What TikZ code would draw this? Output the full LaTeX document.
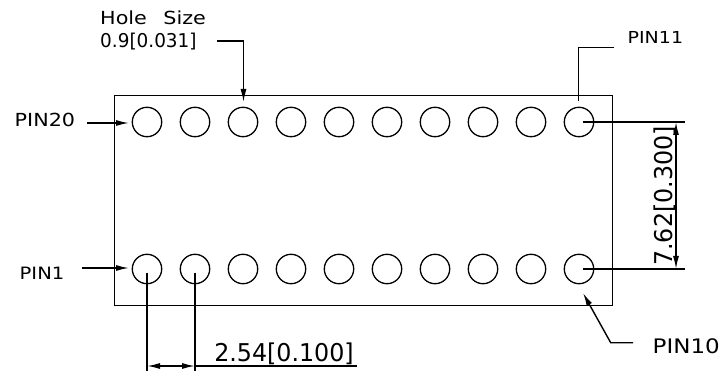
\documentclass[tikz,border=0pt]{standalone}
\usepackage{fontspec}
\setmainfont[FakeStretch=1.15]{DejaVu Sans}
\newfontfamily\numfont[FakeStretch=0.97]{DejaVu Sans}
\usetikzlibrary{arrows.meta}
\tikzset{
	hole/.style={draw,circle,line width=1.3pt,minimum size=29.4pt,inner sep=0pt},
	lead/.style={line width=1.4pt},
	tip/.style={-{Latex[length=13pt,width=6pt]}},
	dimtips/.style={{Latex[length=13pt,width=6pt]}-{Latex[length=13pt,width=6pt]}},
	callout/.style={inner sep=0pt,anchor=west,font=\fontsize{#1}{#1}\selectfont},
	holetext/.style={inner sep=0pt,anchor=base west,font=\numfont\fontsize{19}{19}\selectfont},
	dimtext/.style={inner sep=0pt,anchor=base,font=\numfont\fontsize{24.5}{24.5}\selectfont},
}
\begin{document}
\begin{tikzpicture}[x=1pt,y=-1pt]
	\useasboundingbox (0,0) rectangle (720,371);
	
	\node[draw,line width=1.8pt,inner sep=0pt,anchor=north west,minimum width=498pt,minimum height=210pt] (body) at (113.5,94.7) {};
	
	\foreach \i in {0,...,9} {
		\pgfmathtruncatemacro{\lower}{\i+1}
		\pgfmathtruncatemacro{\upper}{20-\i}
		\node[hole] (h\lower) at (147+48*\i,269) {};
		\node[hole] (h\upper) at (147+48*\i,122) {};
	}
	
	\node[callout=18] (holeA) at (100,17.5) {Hole\hspace{10pt} Size};
	\node[holetext] (holeB) at (100,48) {0.9[0.031]};
	\node[callout=18] (pinA) at (14.5,120) {PIN20};
	\node[callout=17] (pinB) at (19.5,273) {PIN1};
	\node[callout=16.5] (pinC) at (627.5,37) {PIN11};
	\node[callout=20] (pinD) at (652.5,346) {PIN10};
	\node[dimtext] (dimA) at (284,361) {2.54[0.100]};
	\node[dimtext,rotate=90] (dimB) at (672,196) {7.62[0.300]};
	
	\coordinate (holeS) at (217,41);
	\coordinate (holeE) at (243.5,41);
	\coordinate (holeT) at (243.5,102);
	\draw[lead,tip] (holeS) -- (holeE) -- (holeT);
	
	\coordinate (p20S) at (87,123);
	\coordinate (p20T) at (129,123);
	\draw[lead,tip] (p20S) -- (p20T);
	\coordinate (p1S) at (82,268);
	\coordinate (p1T) at (129,268);
	\draw[lead,tip] (p1S) -- (p1T);
	
	\coordinate (p11S) at (614,47.5);
	\coordinate (p11E) at (578.7,47.5);
	\coordinate (p11T) at (578.7,101);
	\draw[lead] (p11S) -- (p11E) -- (p11T);
	
	\coordinate (p10S) at (633,342.7);
	\coordinate (p10E) at (610.7,342.7);
	\coordinate (p10T) at (583,293);
	\draw[lead,tip] (p10S) -- (p10E) -- (p10T);
	
	\coordinate (extA1) at (582.7,122);
	\coordinate (extA2) at (685,122);
	\coordinate (extB1) at (582.7,269);
	\coordinate (extB2) at (685,269);
	\draw[lead] (extA1) -- (extA2);
	\draw[lead] (extB1) -- (extB2);
	\coordinate (vdimA) at (676,122);
	\coordinate (vdimB) at (676,269);
	\draw[lead,dimtips] (vdimA) -- (vdimB);
	
	\coordinate (extC1) at (147,272.7);
	\coordinate (extC2) at (147,371);
	\coordinate (extD1) at (195,272.7);
	\coordinate (extD2) at (195,371);
	\draw[lead] (extC1) -- (extC2);
	\draw[lead] (extD1) -- (extD2);
	\coordinate (hdimA) at (147,366);
	\coordinate (hdimB) at (195,366);
	\coordinate (hdimC) at (357,366);
	\draw[lead,dimtips] (hdimA) -- (hdimB);
	\draw[lead] (hdimB) -- (hdimC);
\end{tikzpicture}
\end{document}
